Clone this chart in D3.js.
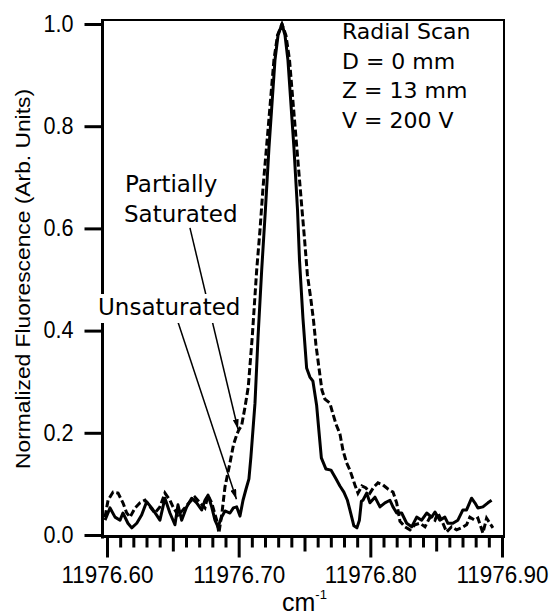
<!DOCTYPE html>
<html><head><meta charset="utf-8">
<script src="https://cdn.jsdelivr.net/npm/d3@7"></script>
<style>body{margin:0;background:#fff}</style>
</head><body>
<svg id="chart" width="556" height="616"></svg>
<script>
// ---- Data ----
const unsatX = [11976.5985,11976.6023,11976.6061,11976.6099,11976.6121,11976.6159,11976.6188,11976.6226,11976.6263,11976.6301,
11976.6339,11976.6377,11976.6402,11976.6440,11976.6478,11976.6516,11976.6539,11976.6567,11976.6605,11976.6643,
11976.6681,11976.6719,11976.6744,11976.6767,11976.6795,11976.6820,11976.6843,11976.6871,11976.6896,11976.6934,
11976.6960,11976.6985,11976.7010,11976.7033,11976.7056,11976.7078,11976.7093,11976.7124,11976.7147,11976.7175,
11976.7203,11976.7230,11976.7276,11976.7299,11976.7329,11976.7352,11976.7374,11976.7420,11976.7447,11976.7462,
11976.7488,11976.7516,11976.7541,11976.7564,11976.7592,11976.7609,11976.7628,11976.7663,11976.7701,11976.7739,
11976.7769,11976.7799,11976.7826,11976.7849,11976.7875,11976.7898,11976.7917,11976.7932,11976.7944,11976.7972,
11976.7997,11976.8035,11976.8073,11976.8111,11976.8149,11976.8172,11976.8200,11976.8238,11976.8276,11976.8314,
11976.8352,11976.8390,11976.8428,11976.8466,11976.8491,11976.8528,11976.8566,11976.8589,11976.8627,11976.8665,
11976.8703,11976.8731,11976.8769,11976.8794,11976.8817,11976.8855,11976.8893,11976.8921];
const unsatY = [0.029,0.053,0.035,0.029,0.043,0.023,0.014,0.023,0.039,0.065,
0.053,0.039,0.029,0.072,0.043,0.020,0.059,0.029,0.055,0.072,
0.063,0.049,0.068,0.078,0.055,0.029,0.016,0.035,0.047,0.043,
0.053,0.055,0.037,0.068,0.090,0.110,0.153,0.258,0.387,0.519,
0.636,0.757,0.930,0.978,1.000,0.978,0.930,0.757,0.636,0.538,
0.425,0.327,0.309,0.301,0.254,0.205,0.151,0.129,0.127,0.110,
0.096,0.084,0.068,0.045,0.018,0.014,0.029,0.066,0.068,0.082,
0.063,0.074,0.055,0.063,0.068,0.055,0.043,0.043,0.023,0.016,
0.035,0.029,0.043,0.035,0.045,0.029,0.035,0.023,0.023,0.029,
0.049,0.049,0.072,0.063,0.053,0.055,0.063,0.068];

const partX = [11976.5985,11976.6008,11976.6046,11976.6084,11976.6121,11976.6150,11976.6175,11976.6213,11976.6251,11976.6289,
11976.6327,11976.6364,11976.6402,11976.6440,11976.6478,11976.6501,11976.6539,11976.6577,11976.6630,11976.6668,
11976.6706,11976.6744,11976.6767,11976.6795,11976.6833,11976.6850,11976.6873,11976.6896,11976.6934,11976.6960,
11976.6985,11976.7000,11976.7023,11976.7048,11976.7073,11976.7103,11976.7137,11976.7162,11976.7185,11976.7211,
11976.7268,11976.7295,11976.7329,11976.7359,11976.7386,11976.7442,11976.7480,11976.7500,11976.7522,11976.7549,
11976.7568,11976.7587,11976.7610,11976.7632,11976.7655,11976.7693,11976.7716,11976.7739,11976.7769,11976.7792,
11976.7820,11976.7845,11976.7883,11976.7906,11976.7936,11976.7967,11976.7997,11976.8027,11976.8058,11976.8096,
11976.8134,11976.8172,11976.8200,11976.8225,11976.8263,11976.8301,11976.8339,11976.8377,11976.8415,11976.8453,
11976.8491,11976.8513,11976.8551,11976.8579,11976.8617,11976.8655,11976.8693,11976.8731,11976.8756,11976.8794,
11976.8817,11976.8855,11976.8883,11976.8908,11976.8931];
const partY = [0.035,0.068,0.084,0.082,0.063,0.043,0.035,0.053,0.063,0.068,
0.055,0.043,0.055,0.082,0.068,0.055,0.039,0.049,0.065,0.074,
0.063,0.053,0.078,0.063,0.029,0.004,0.043,0.094,0.141,0.176,
0.196,0.205,0.215,0.250,0.290,0.387,0.519,0.597,0.680,0.757,
0.930,0.978,1.000,0.978,0.930,0.757,0.640,0.580,0.509,0.460,
0.421,0.372,0.327,0.284,0.266,0.258,0.237,0.217,0.198,0.166,
0.141,0.127,0.098,0.082,0.096,0.092,0.082,0.094,0.102,0.098,
0.090,0.084,0.063,0.027,0.016,0.010,0.020,0.023,0.016,0.035,
0.029,0.043,0.023,0.006,0.016,0.010,0.014,0.020,0.035,0.029,
0.033,0.004,0.033,0.023,0.014];

const xTickValues = [11976.60, 11976.70, 11976.80, 11976.90];
const xTickLabels = ["11976.60", "11976.70", "11976.80", "11976.90"];
const yTickValues = [0.0, 0.2, 0.4, 0.6, 0.8, 1.0];
const yTickLabels = ["0.0", "0.2", "0.4", "0.6", "0.8", "1.0"];
const infoLines = ["Radial Scan", "D = 0 mm", "Z = 13 mm", "V = 200 V"];
const yTitle = "Normalized Fluorescence (Arb. Units)";
const xTitle = "cm";
const xTitleSup = "-1";
// annotation arrows: [start, tip] in data coordinates
const arrowPartFrom = [11976.6630, 0.601], arrowPartTo = [11976.6995, 0.207];
const arrowUnsatFrom = [11976.6539, 0.417], arrowUnsatTo = [11976.6983, 0.070];

// ---- Drawing ----
const svg = d3.select("#chart");
const x = d3.scaleLinear().domain([11976.60, 11976.90]).range([107, 502]);
const y = d3.scaleLinear().domain([0, 1]).range([535, 24]);
const tickFont = "'Liberation Sans', Arial, Helvetica, sans-serif";
const labelFont = "'DejaVu Sans', Verdana, sans-serif";

const defs = svg.append("defs");
defs.append("marker").attr("id", "ah").attr("markerUnits", "userSpaceOnUse")
  .attr("viewBox", "0 0 10 6").attr("refX", 10).attr("refY", 3)
  .attr("markerWidth", 10).attr("markerHeight", 6).attr("orient", "auto")
  .append("path").attr("d", "M0,0 L10,3 L0,6 Z").attr("fill", "#000");

const plotLeft = 102.5, plotRight = 504, plotTop = 20, plotBottom = 536.5;

// curves
const line = d3.line().x(d => x(d[0])).y(d => y(d[1]));
svg.append("path").datum(unsatX.map((v, i) => [v, unsatY[i]]))
  .attr("d", line).attr("fill", "none").attr("stroke", "#000")
  .attr("stroke-width", 3).attr("stroke-linejoin", "round");
svg.append("path").datum(partX.map((v, i) => [v, partY[i]]))
  .attr("d", line).attr("fill", "none").attr("stroke", "#000")
  .attr("stroke-width", 3).attr("stroke-dasharray", "7,3");

// frame
svg.append("line").attr("x1", plotLeft).attr("x2", plotRight).attr("y1", plotTop).attr("y2", plotTop)
  .attr("stroke", "#000").attr("stroke-width", 2);
svg.append("line").attr("x1", plotRight).attr("x2", plotRight).attr("y1", plotTop - 1).attr("y2", plotBottom)
  .attr("stroke", "#000").attr("stroke-width", 2);

// y axis
const yAxis = d3.axisLeft(y).tickValues(yTickValues).tickFormat((d, i) => yTickLabels[i])
  .tickSize(18).tickPadding(11);
const gy = svg.append("g").attr("transform", `translate(${plotLeft},0)`).call(yAxis);
gy.select(".domain").attr("d", `M0,${plotTop - 1}V${plotBottom + 2}`).attr("stroke-width", 3);
gy.selectAll(".tick line").attr("stroke-width", 3);
gy.selectAll(".tick text").attr("font-family", tickFont).attr("font-size", 23)
  .attr("fill", "#000").attr("textLength", 30).attr("lengthAdjust", "spacingAndGlyphs");

// x axis (minor ticks every 0.01)
const minorTicks = d3.range(0, 31).map(i => xTickValues[0] + i * 0.01);
const xAxis = d3.axisBottom(x).tickValues(minorTicks)
  .tickFormat((d, i) => i % 10 === 0 ? xTickLabels[i / 10] : "").tickSize(11).tickPadding(10);
const gx = svg.append("g").attr("transform", `translate(0,${plotBottom})`).call(xAxis);
gx.select(".domain").attr("d", `M${plotLeft - 1.5},0H${plotRight + 1}`).attr("stroke-width", 3);
gx.selectAll(".tick line").attr("stroke-width", 3)
  .attr("y2", (d, i) => i % 10 === 0 ? 21 : (i % 5 === 0 ? 15 : 11));
gx.selectAll(".tick text").attr("font-family", tickFont).attr("font-size", 24)
  .attr("fill", "#000").attr("y", 29).attr("dy", "0.71em")
  .attr("textLength", (d, i) => i % 10 === 0 ? 92 : null).attr("lengthAdjust", "spacingAndGlyphs");

// axis titles
svg.append("text").attr("transform", "translate(30,279) rotate(-90)")
  .attr("text-anchor", "middle").attr("font-family", tickFont).attr("font-size", 21)
  .attr("textLength", 380).attr("lengthAdjust", "spacingAndGlyphs").text(yTitle);
const xt = svg.append("text").attr("x", 282).attr("y", 611).attr("font-family", tickFont)
  .attr("font-size", 25);
xt.append("tspan").text(xTitle);
xt.append("tspan").attr("font-size", 13).attr("dy", -12).text(xTitleSup);

// arrows
function arrow(from, to) {
  svg.append("line").attr("x1", x(from[0])).attr("y1", y(from[1]))
    .attr("x2", x(to[0])).attr("y2", y(to[1]))
    .attr("stroke", "#000").attr("stroke-width", 1.5).attr("marker-end", "url(#ah)");
}
arrow(arrowPartFrom, arrowPartTo);
arrow(arrowUnsatFrom, arrowUnsatTo);

// labels
svg.append("rect").attr("x", 95).attr("y", 294).attr("width", 154).attr("height", 29).attr("fill", "#fff");
svg.append("text").attr("x", 98).attr("y", 315).attr("font-family", labelFont).attr("font-size", 23)
  .text("Unsaturated");
svg.append("text").attr("x", 125).attr("y", 192).attr("font-family", labelFont).attr("font-size", 23)
  .text("Partially");
svg.append("text").attr("x", 124).attr("y", 222).attr("font-family", labelFont).attr("font-size", 23)
  .text("Saturated");

svg.append("g").selectAll("text").data(infoLines).join("text")
  .attr("x", 342).attr("y", (d, i) => 39 + i * 29.5)
  .attr("font-family", labelFont).attr("font-size", 22).text(d => d);
</script>
</body></html>
